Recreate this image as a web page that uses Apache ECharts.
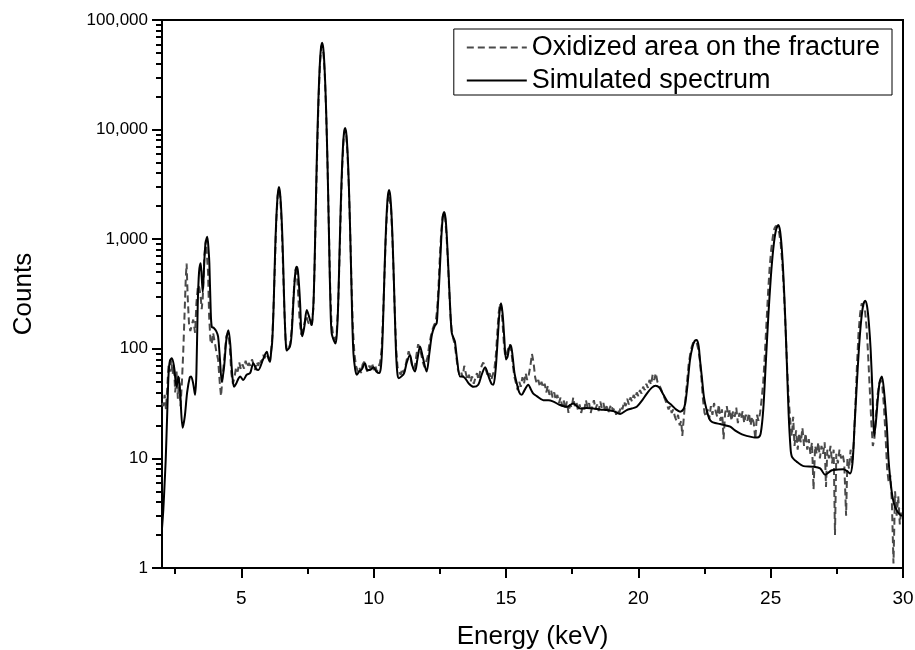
<!DOCTYPE html>
<html><head><meta charset="utf-8">
<script src="https://cdn.jsdelivr.net/npm/echarts@6/dist/echarts.min.js"></script>
<style>html,body{margin:0;padding:0;background:#fff}#c{width:915px;height:650px}</style>
</head><body><div id="c"></div>
<script>
// Simulated spectrum
const energySim = [2.00,2.05,2.10,2.14,2.20,2.25,2.30,2.37,2.45,2.55,2.62,2.68,2.78,2.86,2.95,3.05,3.10,3.18,3.25,3.30,3.35,3.40,3.46,3.50,3.54,3.58,3.64,3.71,3.76,3.79,3.84,3.88,3.96,4.05,4.12,4.19,4.26,4.35,4.43,4.51,4.58,4.65,4.72,4.80,4.88,4.95,5.07,5.20,5.33,5.45,5.55,5.64,5.80,5.96,6.02,6.08,6.12,6.165,6.21,6.25,6.29,6.335,6.38,6.42,6.46,6.505,6.55,6.59,6.63,6.675,6.71,6.78,6.835,6.88,6.92,6.96,7.005,7.05,7.09,7.13,7.175,7.22,7.26,7.30,7.38,7.47,7.55,7.66,7.69,7.735,7.78,7.825,7.87,7.915,7.96,8.005,8.05,8.095,8.14,8.185,8.23,8.275,8.32,8.365,8.41,8.50,8.56,8.605,8.65,8.695,8.74,8.785,8.83,8.875,8.92,8.965,9.01,9.055,9.10,9.145,9.19,9.235,9.30,9.36,9.45,9.55,9.67,9.76,9.86,9.99,10.10,10.21,10.265,10.31,10.355,10.40,10.445,10.49,10.535,10.58,10.625,10.67,10.715,10.76,10.805,10.85,10.90,10.95,11.05,11.15,11.25,11.37,11.46,11.56,11.65,11.75,11.85,12.00,12.10,12.20,12.30,12.38,12.42,12.47,12.52,12.565,12.61,12.66,12.71,12.755,12.80,12.85,12.90,12.95,13.02,13.07,13.15,13.26,13.35,13.45,13.60,13.77,13.95,14.08,14.21,14.35,14.45,14.52,14.60,14.65,14.70,14.75,14.81,14.87,14.93,15.00,15.06,15.12,15.18,15.25,15.32,15.41,15.50,15.59,15.70,15.84,15.95,16.03,16.16,16.41,16.60,16.79,17.00,17.29,17.54,17.80,18.05,18.30,18.55,18.81,19.06,19.31,19.56,19.75,19.94,20.15,20.32,20.50,20.65,20.80,20.95,21.10,21.26,21.42,21.58,21.70,21.77,21.85,21.95,22.05,22.13,22.21,22.28,22.33,22.40,22.48,22.58,22.68,22.77,22.90,23.09,23.30,23.47,23.65,23.84,24.00,24.22,24.40,24.54,24.625,24.72,24.815,24.91,25.005,25.10,25.195,25.29,25.355,25.42,25.485,25.55,25.615,25.68,25.745,25.80,25.99,26.24,26.61,26.87,27.06,27.31,27.55,27.75,27.90,28.00,28.09,28.17,28.25,28.33,28.41,28.49,28.57,28.64,28.71,28.78,28.85,28.91,28.98,29.05,29.12,29.20,29.28,29.39,29.45,29.51,29.60,29.70,29.89,30.00];
const countsSim = [2.3,3.4,6,9.7,27,60,78,82,70,45,56,42,19,24,40,55,56,48,38,60,250,500,603,450,330,500,900,1055,800,600,226,159,155,145,129,80,50,70,120,148,110,60,45,48,53,56,52,58,60,74,66,64,78,94,82,76,91,117,212,477,1027,1844,2644,2994,2644,1844,1027,477,212,117,97,100,105,121,165,256,391,524,561,524,391,256,150,130,160,226,200,165,190,306,858,2890,8560,20300,37760,54850,62000,54800,37700,20200,8500,2830,800,250,140,118,112,135,225,565,1510,3470,6390,9240,10350,9200,6350,3430,1470,520,180,90,65,58,62,65,74,64,64,68,62,60,66,91,181,432,953,1728,2487,2811,2487,1728,953,432,181,85,58,54,56,60,75,88,70,62,80,105,85,62,90,135,160,172,240,386,690,1140,1580,1771,1580,1140,690,380,210,140,125,116,80,56,56,54,48,45,47,58,68,55,48,47,62,90,140,210,260,210,130,80,85,102,108,85,60,48,40,38,42,47,42,39,37,34,34,33,31,29.6,31.7,28.6,28.8,28.6,28,27.6,27,25.4,27.6,28.5,29.6,34,39,44,46,44,38,33,30.6,28,26.7,28,31.7,45,79,105,118,120,105,79,55,36,27.6,23,21.6,21,20.6,20,19.5,18,16.9,16.3,15.8,15.5,15.6,17,28,74,196,448,825,1193,1348,1188,820,443,190,69,25,13,10.4,9.3,8.5,8.4,8.1,7.1,7.8,7.9,7.95,7.6,7.3,9,20,45,96,172,246,275,246,172,96,38,16,22,35,50,56,42,19.5,10,6.8,4.5,3.6,3.05,3.0];

// Oxidized area on the fracture (measured)
const energyOx = [2.00,2.05,2.10,2.15,2.20,2.25,2.30,2.35,2.40,2.45,2.50,2.55,2.60,2.65,2.70,2.75,2.80,2.85,2.90,2.93,2.97,3.02,3.07,3.12,3.18,3.25,3.30,3.36,3.41,3.46,3.50,3.54,3.60,3.66,3.70,3.74,3.78,3.83,3.88,3.93,3.98,4.05,4.12,4.18,4.23,4.30,4.37,4.43,4.50,4.56,4.62,4.68,4.74,4.80,4.86,4.92,4.98,5.04,5.10,5.16,5.22,5.28,5.34,5.40,5.46,5.52,5.58,5.64,5.70,5.76,5.82,5.88,5.94,6.00,6.06,6.12,6.17,6.22,6.27,6.32,6.37,6.42,6.47,6.52,6.57,6.62,6.67,6.72,6.78,6.84,6.90,6.95,7.00,7.05,7.10,7.15,7.20,7.26,7.32,7.38,7.45,7.52,7.60,7.66,7.72,7.77,7.82,7.87,7.92,7.97,8.02,8.06,8.10,8.15,8.20,8.25,8.30,8.35,8.40,8.47,8.54,8.60,8.66,8.71,8.76,8.81,8.86,8.91,8.96,9.01,9.06,9.11,9.16,9.21,9.27,9.33,9.40,9.46,9.52,9.58,9.64,9.70,9.76,9.82,9.88,9.94,10.00,10.06,10.12,10.18,10.24,10.30,10.35,10.40,10.45,10.50,10.55,10.60,10.65,10.70,10.75,10.80,10.85,10.90,10.96,11.02,11.08,11.14,11.20,11.26,11.32,11.38,11.44,11.50,11.56,11.62,11.68,11.74,11.80,11.86,11.92,11.98,12.04,12.10,12.16,12.22,12.28,12.34,12.40,12.45,12.50,12.55,12.60,12.65,12.70,12.75,12.80,12.85,12.90,12.95,13.00,13.06,13.12,13.18,13.24,13.30,13.36,13.42,13.48,13.54,13.60,13.66,13.72,13.78,13.84,13.90,13.96,14.02,14.08,14.14,14.20,14.26,14.32,14.38,14.44,14.50,14.56,14.62,14.67,14.72,14.77,14.82,14.87,14.92,14.97,15.02,15.08,15.14,15.20,15.26,15.32,15.38,15.44,15.50,15.56,15.62,15.68,15.74,15.80,15.86,15.92,15.98,16.04,16.10,16.16,16.22,16.28,16.34,16.40,16.46,16.52,16.58,16.64,16.70,16.76,16.82,16.88,16.94,17.00,17.06,17.12,17.18,17.24,17.30,17.36,17.42,17.48,17.54,17.60,17.66,17.72,17.78,17.84,17.90,17.96,18.02,18.08,18.14,18.20,18.26,18.32,18.38,18.44,18.50,18.56,18.62,18.68,18.74,18.80,18.86,18.92,18.98,19.04,19.10,19.16,19.22,19.28,19.34,19.40,19.46,19.52,19.58,19.64,19.70,19.76,19.82,19.88,19.94,20.00,20.06,20.12,20.18,20.24,20.30,20.36,20.42,20.48,20.54,20.60,20.66,20.72,20.78,20.84,20.90,20.96,21.02,21.08,21.14,21.20,21.26,21.32,21.38,21.44,21.50,21.56,21.62,21.66,21.72,21.78,21.84,21.90,21.96,22.02,22.08,22.14,22.20,22.26,22.32,22.38,22.44,22.50,22.56,22.62,22.68,22.74,22.80,22.86,22.92,22.98,23.04,23.10,23.16,23.22,23.28,23.34,23.40,23.46,23.52,23.58,23.64,23.70,23.76,23.82,23.88,23.94,24.00,24.06,24.12,24.18,24.24,24.30,24.36,24.42,24.48,24.54,24.60,24.66,24.72,24.78,24.84,24.90,24.96,25.02,25.08,25.14,25.20,25.26,25.32,25.38,25.44,25.50,25.56,25.62,25.68,25.74,25.80,25.85,25.90,25.96,26.02,26.08,26.14,26.20,26.26,26.32,26.38,26.44,26.50,26.56,26.62,26.68,26.74,26.80,26.86,26.92,26.98,27.04,27.09,27.14,27.20,27.26,27.32,27.38,27.43,27.48,27.54,27.60,27.66,27.72,27.78,27.85,27.90,27.96,28.02,28.08,28.14,28.20,28.26,28.32,28.38,28.44,28.50,28.56,28.62,28.68,28.74,28.80,28.86,28.92,28.98,29.04,29.10,29.16,29.22,29.28,29.34,29.40,29.46,29.52,29.58,29.64,29.70,29.76,29.82,29.88,29.94,30.00];
const countsOx = [32,30,38,28,45,72,62,80,58,70,40,62,35,55,30,48,90,200,450,600,300,170,145,150,185,140,260,380,360,300,230,290,700,980,1000,500,200,120,110,140,120,95,80,50,37,60,90,130,140,105,60,48,55,68,62,75,65,72,66,78,68,74,70,80,72,64,76,70,80,74,88,82,90,85,80,95,130,260,620,1500,2500,2850,2400,1400,600,240,120,95,100,110,150,250,400,530,480,300,180,135,140,170,200,175,160,170,230,600,2200,7500,20000,40000,58000,60000,50000,32000,15000,5500,1500,400,180,130,120,140,260,700,2000,4500,8000,10000,9000,6000,3000,1200,400,160,90,70,62,68,60,72,76,68,62,70,66,74,64,70,62,68,75,100,190,420,950,1750,2600,2700,2000,1100,500,200,100,68,62,58,66,60,70,82,95,85,72,65,70,90,110,100,88,75,68,70,85,110,130,150,165,175,230,380,700,1150,1600,1750,1550,1100,650,350,200,145,125,110,85,65,58,62,55,70,60,52,58,50,56,48,54,60,52,62,70,75,68,62,55,60,52,58,65,90,140,210,260,240,170,110,85,90,100,110,95,70,55,48,42,50,45,55,48,60,52,58,70,90,75,55,48,52,45,50,44,48,40,46,38,42,36,40,34,38,32,36,30,34,28,33,26,31,29,36,30,33,27,31,26,30,28,34,29,32,26,30,34,28,31,27,33,29,32,27,30,26,29,31,27,29,25,28,26,30,28,33,30,35,31,36,33,38,35,40,37,42,39,45,42,48,44,52,47,58,52,60,50,48,44,40,37,34,31,28,30,26,28,24,22,25,20,22,16,24,35,50,72,90,105,115,118,115,100,80,55,35,26,24,28,23,30,25,32,27,24,31,22,28,15,26,30,24,28,22,27,24,29,21,26,23,27,21,25,22,26,20,24,21,15,25,22,26,35,50,90,170,320,550,800,1050,1250,1330,1300,1150,900,600,330,160,70,35,22,16,24,13,18,12,17,14,19,13,17,12,15,11,14,5.2,13,11,14,10,13,11,14,5.5,12,10,13,9,12,2.0,11,9,12,10,11,9,3.0,10,8,12,9,14,30,70,140,210,260,265,230,160,90,45,22,13,15,25,38,48,52,45,30,16,8,6,7,4,1.1,5,3,4.5,2.5,3.5];

// Axes
const xMajorTicks = [5,10,15,20,25,30];
const xMinorTicks = [2.5,7.5,12.5,17.5,22.5,27.5];
const yMinorTicks = [2,3,4,5,6,7,8,9,20,30,40,50,60,70,80,90,200,300,400,500,600,700,800,900,2000,3000,4000,5000,6000,7000,8000,9000,20000,30000,40000,50000,60000,70000,80000,90000];
const seriesNames = ['Oxidized area on the fracture','Simulated spectrum'];

const font = "'Liberation Sans', Arial, sans-serif";
const simData = energySim.map((e,i)=>[e,countsSim[i]]);
const oxData = energyOx.map((e,i)=>[e,countsOx[i]]);

const chart = echarts.init(document.getElementById('c'), null, {renderer:'canvas'});
chart.setOption({
  animation:false,
  backgroundColor:'#fff',
  grid:{left:162,right:12,top:20,bottom:82,outerBoundsMode:'none',containLabel:false,show:true,borderColor:'#000',borderWidth:2,backgroundColor:'transparent'},
  legend:{
    right:23, top:29, orient:'vertical', itemWidth:60, itemHeight:14, itemGap:6,
    padding:[5,12,1,12], borderColor:'#000', borderWidth:1, borderRadius:0,
    itemStyle:{opacity:0},
    textStyle:{fontFamily:font,fontSize:27,color:'#000'},
    data:seriesNames
  },
  xAxis:[{
    type:'value',min:2,max:30,
    axisLine:{show:true,onZero:false,lineStyle:{color:'#000',width:2}},
    axisTick:{show:true,customValues:xMajorTicks,length:10,inside:false,lineStyle:{color:'#000',width:2}},
    axisLabel:{customValues:xMajorTicks,fontSize:19,color:'#000',fontFamily:font,margin:21},
    splitLine:{show:false},
    name:'Energy (keV)',nameLocation:'middle',nameGap:56,
    nameTextStyle:{fontSize:26,fontFamily:font,color:'#000'}
  },{
    type:'value',min:2,max:30,position:'bottom',
    axisLine:{show:false,onZero:false},
    axisTick:{show:true,customValues:xMinorTicks,length:6,lineStyle:{color:'#000',width:2}},
    axisLabel:{show:false},splitLine:{show:false}
  }],
  yAxis:[{
    type:'log',logBase:10,min:1,max:100000,
    axisLine:{show:true,onZero:false,lineStyle:{color:'#000',width:2}},
    axisTick:{show:true,length:10,lineStyle:{color:'#000',width:2}},
    axisLabel:{fontSize:17,color:'#000',fontFamily:font,margin:14,
      formatter:v=>Number(v).toLocaleString('en-US')},
    splitLine:{show:false},
    name:'Counts',nameLocation:'middle',nameGap:125,nameRotate:90,
    nameTextStyle:{fontSize:26,fontFamily:font,color:'#000'}
  },{
    type:'log',logBase:10,min:1,max:100000,position:'left',
    axisLine:{show:false,onZero:false},
    axisTick:{show:true,customValues:yMinorTicks,length:6,lineStyle:{color:'#000',width:2}},
    axisLabel:{show:false},splitLine:{show:false}
  }],
  series:[{
    name:seriesNames[0],type:'line',xAxisIndex:0,yAxisIndex:0,data:oxData,
    symbol:'none',lineStyle:{color:'#4a4a4a',width:2,type:[7,4]},itemStyle:{color:'#4a4a4a'},z:2
  },{
    name:seriesNames[1],type:'line',xAxisIndex:0,yAxisIndex:0,data:simData,
    symbol:'none',smooth:0.3,lineStyle:{color:'#000',width:2},itemStyle:{color:'#000'},z:3
  }]
});
</script>
</body></html>
